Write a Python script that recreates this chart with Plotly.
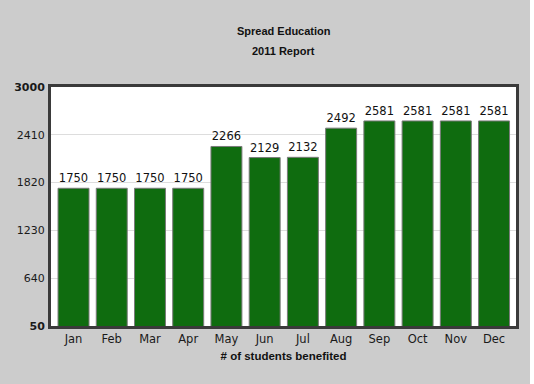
import plotly.graph_objects as go

months = ["Jan", "Feb", "Mar", "Apr", "May", "Jun", "Jul", "Aug", "Sep", "Oct", "Nov", "Dec"]
students = [1750, 1750, 1750, 1750, 2266, 2129, 2132, 2492, 2581, 2581, 2581, 2581]
y_ticks = [50, 640, 1230, 1820, 2410, 3000]
y_tick_text = ["<b>50</b>", "640", "1230", "1820", "2410", "<b>3000</b>"]
title_lines = ["Spread Education", "2011 Report"]

FONT = "DejaVu Sans"
BOLD_FONT = "Liberation Sans"

W, H = 530, 384
ML, MR, MT, MB = 51, 14, 87, 58
ph = H - MT - MB

fig = go.Figure(go.Bar(
    x=months, y=students,
    marker=dict(color="#0f6c0f", line=dict(color="#7a7a7a", width=1)),
    text=[str(v) for v in students], textposition="outside",
    textfont=dict(family=FONT, size=11.5, color="#111"),
    cliponaxis=False,
))

annotations = []
for line, ypx in zip(title_lines, [31, 51]):
    annotations.append(dict(text="<b>%s</b>" % line, xref="paper", yref="paper",
                            x=0.5, y=1 + (MT - ypx) / ph, xanchor="center", yanchor="middle",
                            showarrow=False,
                            font=dict(family=BOLD_FONT, size=11, color="#111")))

fig.update_layout(
    width=W, height=H,
    margin=dict(l=ML, r=MR, t=MT, b=MB),
    paper_bgcolor="#cccccc", plot_bgcolor="#ffffff",
    bargap=0.19,
    showlegend=False,
    font=dict(family=FONT, size=11, color="#222"),
    annotations=annotations,
)
fig.update_xaxes(range=[-0.589, 11.574], showline=True, mirror=True, linecolor="#3a3a3a", linewidth=3,
                 ticks="", tickfont=dict(family=FONT, size=11.5, color="#1a1a1a"),
                 title=dict(text="<b># of students benefited</b>", standoff=8,
                            font=dict(family=BOLD_FONT, size=11.5, color="#111")))
fig.update_yaxes(range=[50, 3000], tickvals=y_ticks, ticktext=y_tick_text,
                 showline=True, mirror=True, linecolor="#3a3a3a", linewidth=3,
                 gridcolor="#dddddd", gridwidth=1, zeroline=False, ticks="",
                 ticklabelstandoff=1,
                 tickfont=dict(family=FONT, size=11, color="#1a1a1a"))

fig.write_html("out.html", config={"displayModeBar": False},
               post_script="document.body.style.margin='0';document.body.style.overflow='hidden';")
